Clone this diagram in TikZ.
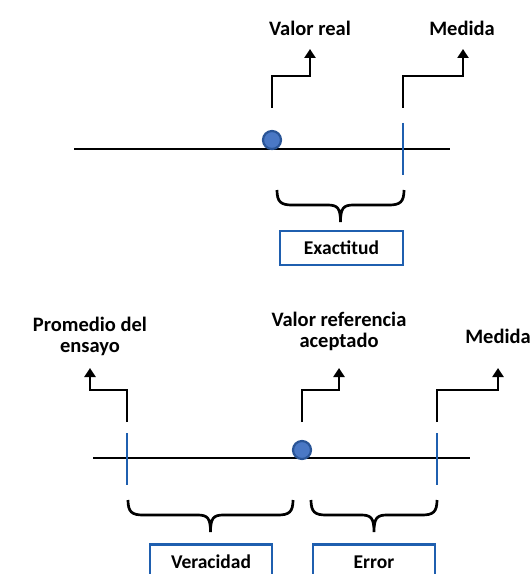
\documentclass[tikz,border=0pt]{standalone}
\usepackage{fontspec}
\setmainfont{Carlito}
\usetikzlibrary{arrows.meta}
\definecolor{markblue}{HTML}{1F5FAF}
\definecolor{dotfill}{HTML}{4A78C5}
\definecolor{dotedge}{HTML}{2A5597}
\tikzset{
  axis/.style={line width=2.8bp, black},
  tick/.style={line width=2.4bp, markblue},
  pointer/.style={line width=2.9bp, black, -{Triangle[width=11bp,length=9bp]}},
  value/.style={circle, fill=dotfill, draw=dotedge, line width=2.2bp, minimum size=18bp, inner sep=0pt},
  label/.style={font=\fontsize{20.5bp}{21bp}\selectfont\bfseries, align=center, inner sep=0pt},
  boxed/.style={draw=markblue, line width=2.5bp, inner sep=0pt},
  boxtext/.style={font=\fontsize{19.5bp}{21bp}\selectfont\bfseries, inner sep=0pt},
  brace/.style={line width=2.7bp, black}
}
% curly brace opening downwards: ends at (#1,#3) and (#2,#3), tip at depth #4
\newcommand{\downbrace}[4]{%
  \pgfmathsetmacro{\xc}{(#1+#2)/2}%
  \draw[brace] (#1,#3) .. controls (#1,#3+12) and (#1+4,#3+15) .. (#1+15,#3+15)
    -- (\xc-13,#3+15) .. controls (\xc-3,#3+15) and (\xc,#3+18) .. (\xc,#4)
    .. controls (\xc,#3+18) and (\xc+3,#3+15) .. (\xc+13,#3+15)
    -- (#2-15,#3+15) .. controls (#2-4,#3+15) and (#2,#3+12) .. (#2,#3);}
\begin{document}
\begin{tikzpicture}[x=1bp,y=-1bp]
\useasboundingbox (0,0) rectangle (532,574);
\begin{scope}
\clip (0,0) rectangle (532,574);

% ---- upper scale ----
\draw[axis] (74,149) coordinate (a1) -- (450,149) coordinate (a2);
\draw[tick] (403,123) coordinate (m1top) -- (403,175) coordinate (m1bot);
\node[value] (vr) at (272,140) {};

\node[label] (lvr) at (310,28) {Valor real};
\node[label] (lm1) at (462,28) {Medida};
\coordinate (vrfoot) at (272,108);
\coordinate (m1foot) at (403,108);
\draw[pointer] (vrfoot) -- (272,76) -| (310,49);
\draw[pointer] (m1foot) -- (403,76) -| (463,49);

\downbrace{277}{404}{190}{222}
\node[boxed, minimum width=123bp, minimum height=34bp] (exa) at (341.5,248) {};
\node[boxtext] (texa) at (341.5,248) {Exactitud};

% ---- lower scale ----
\draw[axis] (93,458) coordinate (b1) -- (470,458) coordinate (b2);
\draw[tick] (127,433) coordinate (ptop) -- (127,485) coordinate (pbot);
\draw[tick] (437,433) coordinate (m2top) -- (437,485) coordinate (m2bot);
\node[value] (vra) at (302,450) {};

\node[label] (lpe) at (90,336) {Promedio del\\ensayo};
\node[label] (lva) at (339,331) {Valor referencia\\aceptado};
\node[label] (lm2) at (498,336) {Medida};
\coordinate (pfoot) at (127,422);
\coordinate (vafoot) at (302,422);
\coordinate (m2foot) at (437,422);
\draw[pointer] (pfoot) -- (127,390) -| (90,368);
\draw[pointer] (vafoot) -- (302,390) -| (339,368);
\draw[pointer] (m2foot) -- (437,390) -| (498,368);

\downbrace{128}{293}{500}{532}
\downbrace{311}{437}{500}{532}
\node[boxed, minimum width=122bp, minimum height=36bp, anchor=north] (ver) at (211,543) {};
\node[boxtext] (tver) at (211,562) {Veracidad};
\node[boxed, minimum width=122bp, minimum height=36bp, anchor=north] (err) at (374,543) {};
\node[boxtext] (terr) at (374,562) {Error};
\end{scope}
\end{tikzpicture}
\end{document}
